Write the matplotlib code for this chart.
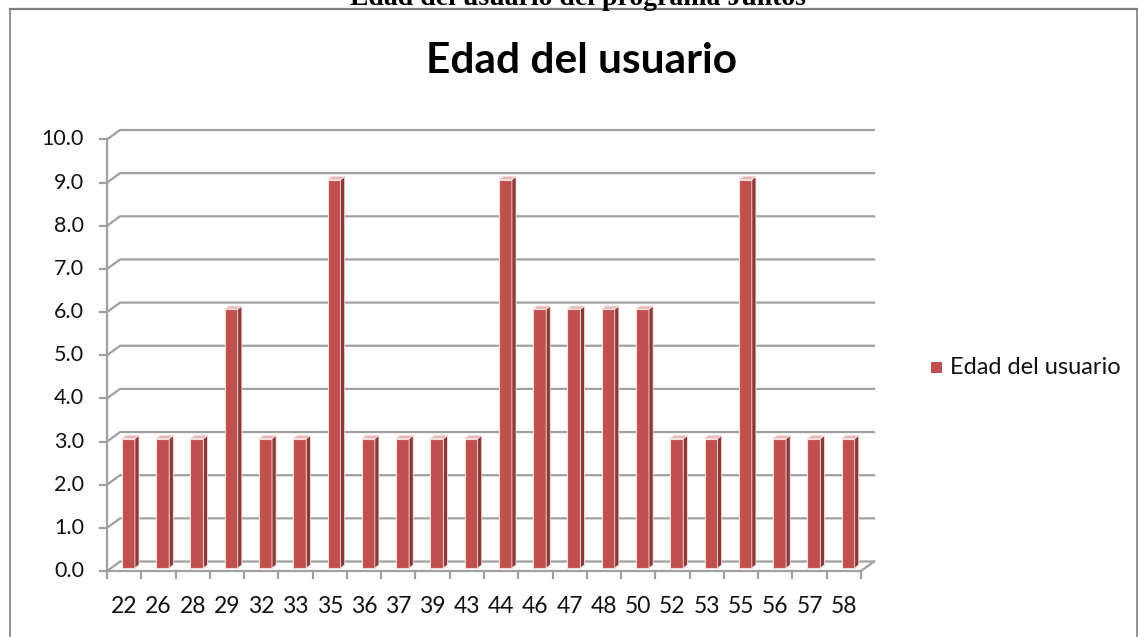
import numpy as np
import matplotlib
matplotlib.use("Agg")
import matplotlib.pyplot as plt
from matplotlib.patches import Polygon, Rectangle
from matplotlib.lines import Line2D

edades = ["22", "26", "28", "29", "32", "33", "35", "36", "37", "39", "43",
          "44", "46", "47", "48", "50", "52", "53", "55", "56", "57", "58"]
usuarios = [3, 3, 3, 6, 3, 3, 9, 3, 3, 3, 3, 9, 6, 6, 6, 6, 3, 3, 9, 3, 3, 3]
y_ticks = [0, 1, 2, 3, 4, 5, 6, 7, 8, 9, 10]

plt.rcParams["font.family"] = ["Lato", "DejaVu Sans"]

ROJO = "#c0504d"
ROJO_OSC = "#8c3836"
ROJO_CLARO = "#e6b9b8"
GRIS = "#a0a0a0"

fig = plt.figure(figsize=(11.39, 6.37), dpi=100)
W, H = 1139, 637

# marco exterior y titulo de pagina (cortado, como en el original)
fig.add_artist(Line2D([10 / W, 10 / W], [0, 1 - 9 / H], transform=fig.transFigure, color="#808080", lw=1.2))
fig.add_artist(Line2D([10 / W, 1137 / W], [1 - 9 / H, 1 - 9 / H], transform=fig.transFigure, color="#808080", lw=1.6))
fig.add_artist(Line2D([1137 / W, 1137 / W], [0, 1 - 9 / H], transform=fig.transFigure, color="#808080", lw=1.2))
fig.text(578 / W, 1 - 5 / H, "Edad del usuario del programa Juntos", ha="center", va="baseline",
         family="Liberation Serif", fontweight="bold", fontsize=20)

fig.text(581 / W, 1 - 73 / H, "Edad del usuario", ha="center", va="baseline",
         fontweight="bold", fontsize=30.5)

ax = fig.add_axes([107 / W, 1 - 571 / H, (874 - 107) / W, 441 / H])
n = len(edades)
dx, dy = 0.38, 0.22   # profundidad del piso/pared
ax.set_xlim(0, n + dx)
ax.set_ylim(0, 10 + dy)
ax.axis("off")

# rejilla con profundidad
for v in y_ticks:
    ax.plot([0, dx, n + dx], [v, v + dy, v + dy], color=GRIS, lw=1.6, zorder=1, clip_on=False)
    ax.plot([-0.2, 0], [v, v], color=GRIS, lw=1.6, zorder=1, clip_on=False)
    ax.text(-0.67, v, f"{v:.1f}", ha="right", va="center", fontsize=15.5, color="#111111")
ax.plot([0, 0], [0, 10], color=GRIS, lw=1.6, zorder=1, clip_on=False)
ax.plot([0, n, n + dx], [0, 0, dy], color=GRIS, lw=1.6, zorder=1, clip_on=False)
for i in range(n + 1):
    ax.plot([i, i], [0, -0.17], color=GRIS, lw=1.6, zorder=1, clip_on=False)
for i, lab in enumerate(edades):
    ax.text(i + 0.5, -0.58, lab, ha="center", va="top", fontsize=16.5, color="#111111")

# barras 3D
x = np.arange(n) + 0.5 + 0.125
bw = 0.38
base = 0.07
bars = ax.bar(x, usuarios, width=bw, bottom=base, color=ROJO, edgecolor="#f4dedd", lw=0.8, zorder=3)
sx, sy = 0.12, 0.07
for b, v in zip(x, usuarios):
    r = b + bw / 2
    l = b - bw / 2
    top = v + base
    ax.add_patch(Polygon([[r, base], [r + sx, base + sy], [r + sx, top + sy], [r, top]],
                         closed=True, facecolor=ROJO_OSC, edgecolor="#f4dedd", lw=0.6, zorder=3))
    ax.add_patch(Polygon([[l, top], [l + sx, top + sy], [r + sx, top + sy], [r, top]],
                         closed=True, facecolor=ROJO_CLARO, edgecolor="#f4dedd", lw=0.6, zorder=3))

# leyenda
fig.add_artist(Rectangle((931 / W, 1 - 373 / H), 11 / W, 11 / H, transform=fig.transFigure,
                         facecolor=ROJO, edgecolor="none"))
fig.text(950 / W, 1 - 367 / H, "Edad del usuario", ha="left", va="center", fontsize=17, color="#111111")

fig.savefig("out.png", dpi=100)
